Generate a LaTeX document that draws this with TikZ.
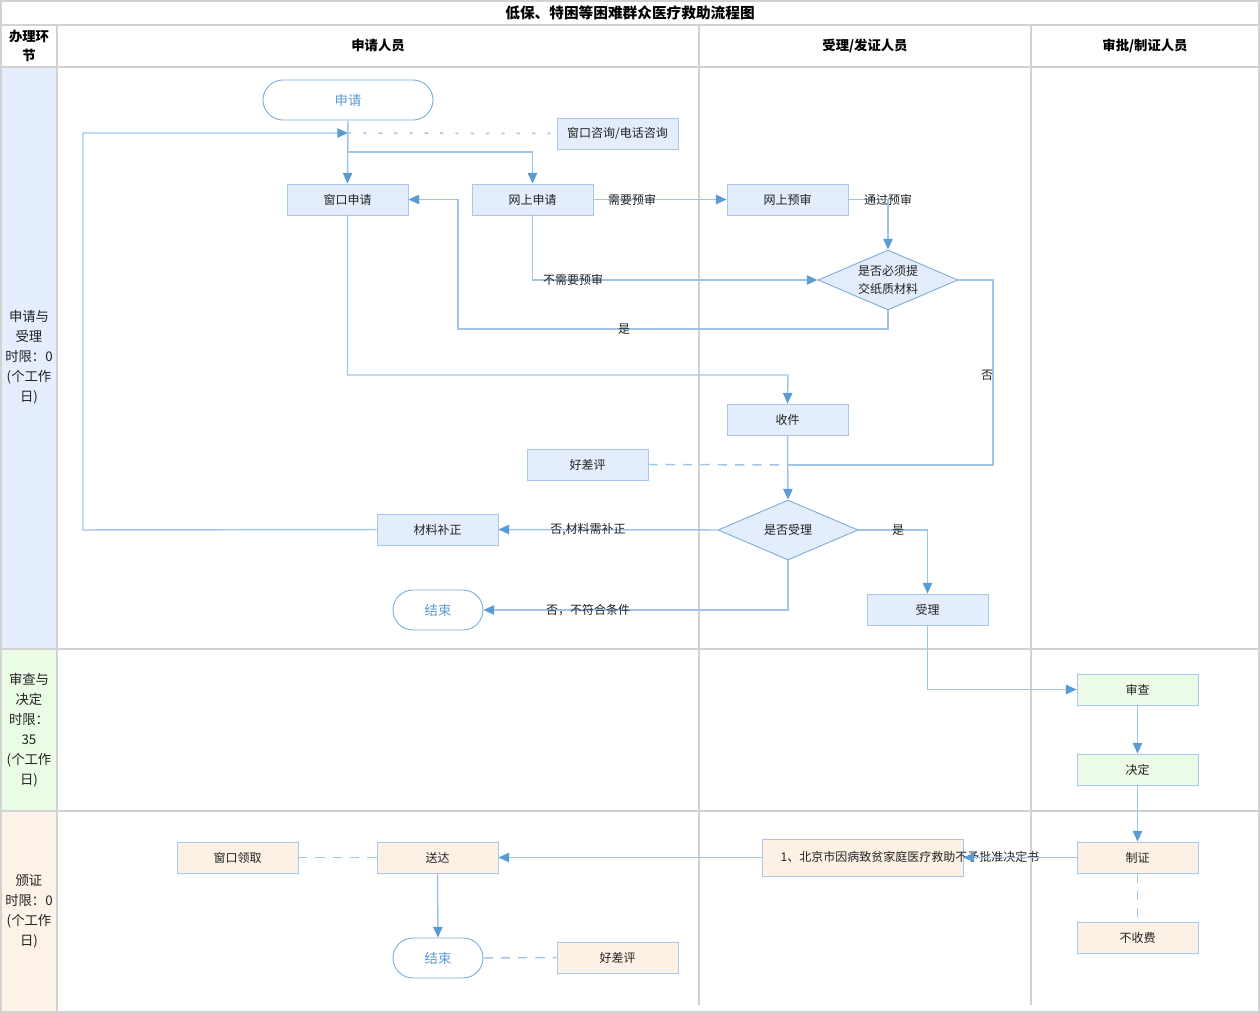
\documentclass[tikz,border=0pt]{standalone}
\usepackage{fontspec}
\setmainfont{Noto Sans CJK SC}
\usetikzlibrary{arrows.meta,shapes.geometric}
\definecolor{gridc}{HTML}{D2D2D2}
\definecolor{linec}{HTML}{9FC5EA}
\definecolor{arrc}{HTML}{5B9BD5}
\definecolor{txtc}{HTML}{222222}
\definecolor{bfill}{HTML}{E3EDFC}
\definecolor{bdraw}{HTML}{A9C7EA}
\definecolor{gfill}{HTML}{EBFBE7}
\definecolor{ofill}{HTML}{FDF1E6}
\definecolor{lbfill}{HTML}{E5EEFD}
\definecolor{lgfill}{HTML}{EBFCE6}
\definecolor{lofill}{HTML}{FDF2E7}
\tikzset{
  grid/.style={draw=gridc,line width=1.5pt},
  box/.style={draw=bdraw,line width=0.6pt,fill=bfill,minimum width=90.75pt,minimum height=23.25pt,inner sep=0pt,font=\fontsize{9}{10}\selectfont,text=txtc},
  gbox/.style={box,fill=gfill},
  obox/.style={box,fill=ofill},
  term/.style={draw=arrc!80,line width=0.7pt,fill=white,rounded corners=15pt,minimum height=30pt,inner sep=0pt,font=\fontsize{10}{11}\selectfont,text=arrc},
  dia/.style={diamond,draw=arrc!80,line width=0.7pt,fill=bfill,minimum width=105pt,minimum height=45pt,shape aspect=2.33,inner sep=0pt,align=center,font=\fontsize{9}{13}\selectfont,text=txtc},
  conn/.style={draw=linec,line width=1.1pt},
  arr/.style={conn,-{Triangle[length=8pt,width=7pt,color=arrc]}},
  dsh/.style={conn,dash pattern=on 7pt off 6pt},
  lbl/.style={font=\fontsize{9}{10}\selectfont,text=txtc,inner sep=0pt},
  hdr/.style={font=\bfseries\fontsize{10}{11}\selectfont,text=black,align=center},
  lane/.style={font=\fontsize{10}{15}\selectfont,text=txtc,align=center}
}
\begin{document}
\begin{tikzpicture}[x=0.75pt,y=-0.75pt]
\useasboundingbox (0,0) rectangle (1260,1013);
% lane backgrounds
\fill[lbfill] (1,67) rectangle (57,649);
\fill[lgfill] (1,649) rectangle (57,811);
\fill[lofill] (1,811) rectangle (57,1012);
% grid
\draw[grid] (1,1) rectangle (1259,1012);
\draw[grid] (1,25) -- (1259,25);
\draw[grid] (1,67) -- (1259,67);
\draw[grid] (1,649) -- (1259,649);
\draw[grid] (1,811) -- (1259,811);
\draw[grid] (57,25) -- (57,1012);
\draw[grid] (699,25) -- (699,1005);
\draw[grid] (1031,25) -- (1031,1005);
% headers
\node[hdr,font=\bfseries\fontsize{11}{12}\selectfont] (title) at (630,13) {低保、特困等困难群众医疗救助流程图};
\node[hdr,font=\bfseries\fontsize{10}{14}\selectfont] (h0) at (29,46) {办理环\\节};
\node[hdr] (h1) at (378,46) {申请人员};
\node[hdr] (h2) at (865,46) {受理/发证人员};
\node[hdr] (h3) at (1145,46) {审批/制证人员};
\node[lane] (l1) at (29,357) {申请与\\受理\\时限：0\\(个工作\\日)};
\node[lane] (l2) at (29,730) {审查与\\决定\\时限：\\35\\(个工作\\日)};
\node[lane] (l3) at (29,911) {颁证\\时限：0\\(个工作\\日)};
% nodes
\node[term,minimum width=127.5pt] (start) at (348,100) {申请};
\node[box] (consult) at (617.5,133.5) {窗口咨询/电话咨询};
\node[box] (winapp) at (347.5,199.5) {窗口申请};
\node[box] (netapp) at (532.5,199.5) {网上申请};
\node[box] (pre) at (787.5,199.5) {网上预审};
\node[dia] (paper) at (888,280) {是否必须提\\交纸质材料};
\node[box] (recv) at (787.5,419.5) {收件};
\node[box] (eval1) at (587.5,464.5) {好差评};
\node[dia] (accept) at (788,530) {是否受理};
\node[box] (fix) at (437.5,529.5) {材料补正};
\node[term,minimum width=67.5pt] (end1) at (438,610) {结束};
\node[box] (acc) at (927.5,609.5) {受理};
\node[gbox] (review) at (1137.5,689.5) {审查};
\node[gbox] (decide) at (1137.5,769.5) {决定};
\node[obox] (make) at (1137.5,857.5) {制证};
\node[obox] (nofee) at (1137.5,937.5) {不收费};
\node[obox,minimum width=150.75pt,minimum height=27.75pt] (doc) at (862.5,857.5) {};
\node[lbl] (doctext) at (910,857) {1、北京市因病致贫家庭医疗救助不予批准决定书};
\node[obox] (deliver) at (437.5,857.5) {送达};
\node[obox] (pickup) at (237.5,857.5) {窗口领取};
\node[term,minimum width=67.5pt] (end2) at (438,958) {结束};
\node[obox] (eval2) at (617.5,957.5) {好差评};
% helper coordinates
\coordinate (j1) at (348,133);
\coordinate (lp) at (83,133);
% connectors
\draw[arr] (start.south) -- (winapp.north);
\draw[arr] (348,152) -| (netapp.north);
\draw[conn,dash pattern=on 2.5pt off 9pt] (j1) -- (consult.west);
\draw[arr] (fix.west) -- (83,530) -- (lp) -- (j1);
\draw[arr] (netapp.east) -- (pre.west);
\node[lbl] at (632,200) {需要预审};
\draw[arr] (pre.east) -| (paper.north);
\node[lbl] at (888,200) {通过预审};
\draw[arr] (netapp.south) |- (paper.west);
\node[lbl] at (573,280) {不需要预审};
\draw[arr] (paper.south) -- (888,329) -- (458,329) |- (winapp.east);
\node[lbl] at (624,329) {是};
\draw[conn] (paper.east) -- (993,280) -- (993,465) -- (788,465);
\node[lbl] at (987,375) {否};
\draw[arr] (winapp.south) |- (788,375) -- (recv.north);
\draw[arr] (recv.south) -- (accept.north);
\draw[dsh] (eval1.east) -- (788,465);
\draw[arr] (accept.west) -- (fix.east);
\node[lbl] at (588,530) {否,材料需补正};
\draw[arr] (accept.south) |- (end1.east);
\node[lbl] at (588,610) {否，不符合条件};
\draw[arr] (accept.east) -| (acc.north);
\node[lbl] at (898,530) {是};
\draw[arr] (acc.south) |- (review.west);
\draw[arr] (review.south) -- (decide.north);
\draw[arr] (decide.south) -- (make.north);
\draw[dsh] (make.south) -- (nofee.north);
\draw[arr] (make.west) -- (doc.east);
\draw[arr] (doc.west) -- (deliver.east);
\draw[dsh] (deliver.west) -- (pickup.east);
\draw[arr] (deliver.south) -- (end2.north);
\draw[dsh] (end2.east) -- (eval2.west);
\end{tikzpicture}
\end{document}
